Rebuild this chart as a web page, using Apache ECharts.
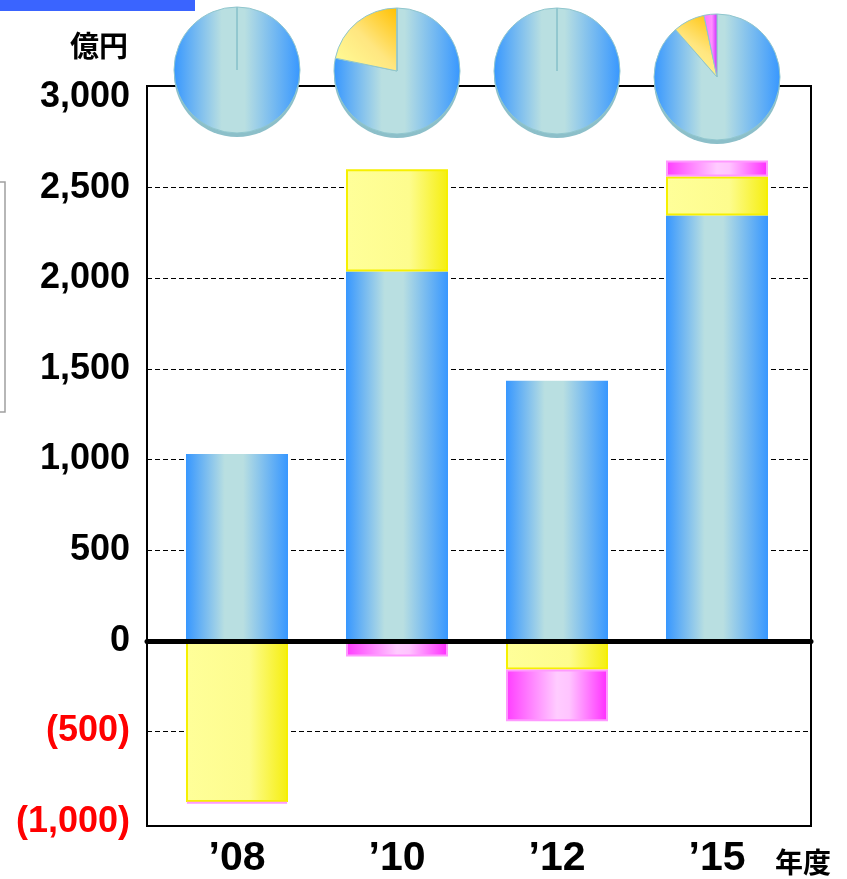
<!DOCTYPE html>
<html>
<head>
<meta charset="utf-8">
<script src="https://cdn.jsdelivr.net/npm/echarts@6/dist/echarts.min.js"></script>
<style>
  html, body { margin: 0; padding: 0; background: #fff; }
  #chart { width: 847px; height: 879px; }
</style>
</head>
<body>
<div id="chart"></div>
<script>
// Fiscal years on the category axis
const years = ['\u201908', '\u201910', '\u201912', '\u201915'];
// Stacked components per year (億円)
const coreValues = [1025, 2035, 1430, 2345];
const secondValues = [-900, 565, -167, 215];
const thirdValues = [-10, -95, -287, 88];
// Value axis ticks and their printed labels
const yTickValues = [-1000, -500, 0, 500, 1000, 1500, 2000, 2500, 3000];
const yTickLabels = ['(1,000)', '(500)', '0', '500', '1,000', '1,500', '2,000', '2,500', '3,000'];
const unitLabel = '億円';
const periodLabel = '年度';

const W = 847, H = 879;
const latin = '"Liberation Sans", Arial, sans-serif';
const cjk = '"Noto Sans CJK JP", "Noto Sans CJK SC", sans-serif';

// Layout: outer frame, value grid (ticks + grid lines), bar grid
const frame = { left: 147, top: 86, right: W - 811, bottom: H - 826 };
const valueGrid = { left: 147, top: 97, right: W - 811, bottom: H - 822 };
const barGrid = { left: 157, top: 97, right: W - 797, bottom: H - 822 };
const band = (W - barGrid.left - barGrid.right) / years.length;
const pieRadius = 63;
const pieCenterY = [70, 71, 71, 77];

const G = echarts.graphic.LinearGradient;
const blueFill = () => new G(0, 0, 1, 0, [
  { offset: 0, color: '#3797ff' },
  { offset: 0.38, color: '#b9dfe1' },
  { offset: 0.56, color: '#b9dfe1' },
  { offset: 1, color: '#3797ff' }
]);
const yellowFill = () => new G(0, 0, 1, 0, [
  { offset: 0, color: '#ffff99' },
  { offset: 0.62, color: '#fdfc8e' },
  { offset: 1, color: '#f5ee0e' }
]);
const pinkFill = () => new G(0, 0, 1, 0, [
  { offset: 0, color: '#ff3cff' },
  { offset: 0.5, color: '#ffccff' },
  { offset: 0.62, color: '#ffc4ff' },
  { offset: 1, color: '#ff2cff' }
]);
const pieYellowFill = () => new G(1, 0, 0, 1, [
  { offset: 0, color: '#ffc000' },
  { offset: 0.5, color: '#ffe680' },
  { offset: 1, color: '#ffff99' }
]);
const piePinkFill = () => new G(0, 0, 1, 0, [
  { offset: 0, color: '#ff70ff' },
  { offset: 0.6, color: '#ff90ff' },
  { offset: 1, color: '#cc22ff' }
]);

const bar = (values, fill, border, borderWidth) => ({
  type: 'bar',
  stack: 'total',
  xAxisIndex: 2,
  yAxisIndex: 2,
  barWidth: 102,
  silent: true,
  z: 3,
  itemStyle: { color: fill, borderColor: border, borderWidth: borderWidth },
  data: values
});

const pies = [];
years.forEach((y, i) => {
  const cx = barGrid.left + band * (i + 0.5);
  const total = [coreValues[i], secondValues[i], thirdValues[i]]
    .reduce((s, v) => s + Math.max(0, v), 0);
  // bottom rim giving the disc a little depth
  pies.push({
    type: 'pie', silent: true, z: 4,
    center: [cx, pieCenterY[i] + 4], radius: pieRadius,
    label: { show: false }, labelLine: { show: false },
    itemStyle: { color: '#8cbfc9' },
    data: [total]
  });
  pies.push({
    type: 'pie', silent: true, z: 5,
    center: [cx, pieCenterY[i]], radius: pieRadius,
    startAngle: 90, clockwise: true,
    label: { show: false }, labelLine: { show: false },
    itemStyle: { borderColor: '#90c6ce', borderWidth: 1 },
    data: [
      { value: Math.max(0, coreValues[i]), itemStyle: { color: blueFill() } },
      { value: Math.max(0, secondValues[i]), itemStyle: { color: pieYellowFill() } },
      { value: Math.max(0, thirdValues[i]), itemStyle: { color: piePinkFill() } }
    ]
  });
});

const chart = echarts.init(document.getElementById('chart'), null, { renderer: 'canvas' });
chart.setOption({
  animation: false,
  backgroundColor: '#fff',
  grid: [
    Object.assign({ show: true, borderColor: '#000', borderWidth: 2, backgroundColor: 'transparent' }, frame),
    valueGrid,
    barGrid
  ],
  xAxis: [
    { type: 'category', gridIndex: 0, data: years, show: false },
    {
      type: 'category', gridIndex: 1, data: years, z: 10,
      axisLine: { show: true, onZero: true, lineStyle: { color: '#000', width: 5 } },
      axisTick: { show: false }, axisLabel: { show: false }, splitLine: { show: false }
    },
    {
      type: 'category', gridIndex: 2, data: years,
      axisLine: { show: false }, axisTick: { show: false }, splitLine: { show: false },
      axisLabel: { margin: 18, color: '#000', fontFamily: latin, fontWeight: 'bold', fontSize: 41 }
    }
  ],
  yAxis: [
    { type: 'value', gridIndex: 0, show: false, min: 0, max: 1 },
    {
      type: 'value', gridIndex: 1, min: -1000, max: 3000, interval: 500,
      axisLine: { show: false }, axisTick: { show: false },
      splitLine: {
        show: true, showMinLine: false, showMaxLine: false,
        lineStyle: { color: '#000', width: 1, type: [5, 3] }
      },
      axisLabel: {
        margin: 17, fontFamily: latin, fontWeight: 'bold', fontSize: 36,
        formatter: v => yTickLabels[yTickValues.indexOf(v)],
        color: v => (v < 0 ? '#ff0000' : '#000000')
      }
    },
    { type: 'value', gridIndex: 2, min: -1000, max: 3000, interval: 500, show: false, splitLine: { show: false } }
  ],
  series: [
    bar(coreValues, blueFill(), 'transparent', 0),
    bar(secondValues, yellowFill(), '#f6f000', 2),
    bar(thirdValues, pinkFill(), '#ff99ff', 2)
  ].concat(pies),
  graphic: [
    { type: 'rect', left: 0, top: 0, shape: { width: 195, height: 11 }, style: { fill: '#3a64ff' }, silent: true },
    { type: 'rect', shape: { x: -20, y: 182, width: 25, height: 230 }, style: { fill: 'none', stroke: '#a0a0a0', lineWidth: 1.5 }, silent: true },
    {
      type: 'text', x: 128, y: 46, silent: true,
      style: { text: unitLabel, fill: '#000', font: 'bold 29px ' + cjk, align: 'right', verticalAlign: 'middle' }
    },
    {
      type: 'text', x: 803, y: 862, silent: true,
      style: { text: periodLabel, fill: '#000', font: 'bold 28px ' + cjk, align: 'center', verticalAlign: 'middle' }
    }
  ]
});
</script>
</body>
</html>
